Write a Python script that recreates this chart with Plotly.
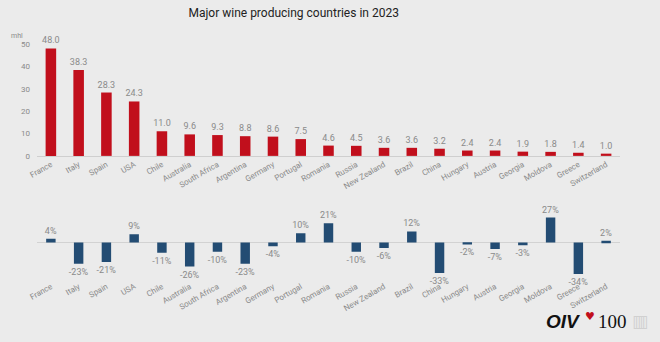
import plotly.graph_objects as go

countries = ["France", "Italy", "Spain", "USA", "Chile", "Australia", "South Africa",
             "Argentina", "Germany", "Portugal", "Romania", "Russia", "New Zealand",
             "Brazil", "China", "Hungary", "Austria", "Georgia", "Moldova", "Greece",
             "Switzerland"]
production_mhl = [48.0, 38.3, 28.3, 24.3, 11.0, 9.6, 9.3, 8.8, 8.6, 7.5, 4.6, 4.5,
                  3.6, 3.6, 3.2, 2.4, 2.4, 1.9, 1.8, 1.4, 1.0]
change_pct = [4, -23, -21, 9, -11, -26, -10, -23, -4, 10, 21, -10, -6, 12, -33, -2,
              -7, -3, 27, -34, 2]
y_ticks = [0, 10, 20, 30, 40, 50]

FONT = "Roboto, sans-serif"
RED = "#c10f1c"
BLUE = "#234c73"
GREY = "#8a8a8a"
BG = "#ebebeb"

fig = go.Figure()

fig.add_trace(go.Bar(
    x=countries, y=production_mhl, marker_color=RED, marker_line_width=0,
    text=[f"{v:.1f}" for v in production_mhl], textposition="outside",
    constraintext="none",
    textfont=dict(family=FONT, size=9, color=GREY), cliponaxis=False,
    xaxis="x", yaxis="y", width=0.38, showlegend=False))

fig.add_trace(go.Bar(
    x=countries, y=change_pct, marker_color=BLUE, marker_line_width=0,
    text=[f"{v}%" for v in change_pct], textposition="outside",
    constraintext="none",
    textfont=dict(family=FONT, size=9, color=GREY), cliponaxis=False,
    xaxis="x2", yaxis="y2", width=0.34, showlegend=False))

H = 342.0
def dom(top_px, bottom_px):
    return [(H - bottom_px) / H, (H - top_px) / H]

fig.update_layout(
    width=660, height=342,
    margin=dict(l=37, r=40, t=0, b=0),
    paper_bgcolor=BG, plot_bgcolor=BG,
    font=dict(family=FONT, color=GREY),
    title=dict(text="Major wine producing countries in 2023", x=0.445, xanchor="center",
               y=0.962, yanchor="middle",
               font=dict(family=FONT, size=12, color="#222222")),
    xaxis=dict(domain=[0, 1], range=[-0.5, 20.5], tickangle=-30,
               tickfont=dict(family=FONT, size=8, color=GREY),
               showline=True, linecolor="#cfcfcf", linewidth=1, ticks="",
               showgrid=False, anchor="y"),
    yaxis=dict(domain=dom(41, 156), range=[0, 50], tickvals=y_ticks,
               tickfont=dict(family=FONT, size=8, color=GREY),
               showgrid=False, zeroline=False, showline=False, ticks="",
               ticklabelstandoff=6),
    xaxis2=dict(domain=[0, 1], range=[-0.5, 20.5], tickangle=-30,
                tickfont=dict(family=FONT, size=8, color=GREY),
                showline=False, ticks="", showgrid=False, anchor="y2"),
    yaxis2=dict(domain=dom(211.75, 283), range=[-40, 35], showticklabels=False,
                showgrid=False, zeroline=True, zerolinecolor="#d2d2d2", zerolinewidth=1,
                showline=False, ticks=""),
    bargap=0.6,
)

fig.add_annotation(text="mhl", xref="paper", yref="paper", x=-0.02, y=(H - 33) / H,
                   xanchor="right", yanchor="middle", showarrow=False,
                   font=dict(family=FONT, size=7, color=GREY))

# logo
fig.add_annotation(text="<b><i>OIV</i></b>", xref="paper", yref="paper",
                   x=0.935, y=(H - 326) / H, xanchor="right", yanchor="middle",
                   showarrow=False, font=dict(family="Liberation Sans, Arial", size=19, color="#111"))
fig.add_annotation(text="♥", xref="paper", yref="paper",
                   x=0.948, y=(H - 321) / H, xanchor="center", yanchor="middle",
                   showarrow=False, font=dict(family="DejaVu Sans", size=11, color=RED))
fig.add_annotation(text="100", xref="paper", yref="paper",
                   x=0.958, y=(H - 326) / H, xanchor="left", yanchor="middle",
                   showarrow=False, font=dict(family="Liberation Serif, serif", size=19, color="#111"))
fig.add_annotation(text="▥", xref="paper", yref="paper",
                   x=1.017, y=(H - 326) / H, xanchor="left", yanchor="middle",
                   showarrow=False, font=dict(family="DejaVu Sans", size=17, color="#d0d0d0"))

fig.write_html("out.html")
